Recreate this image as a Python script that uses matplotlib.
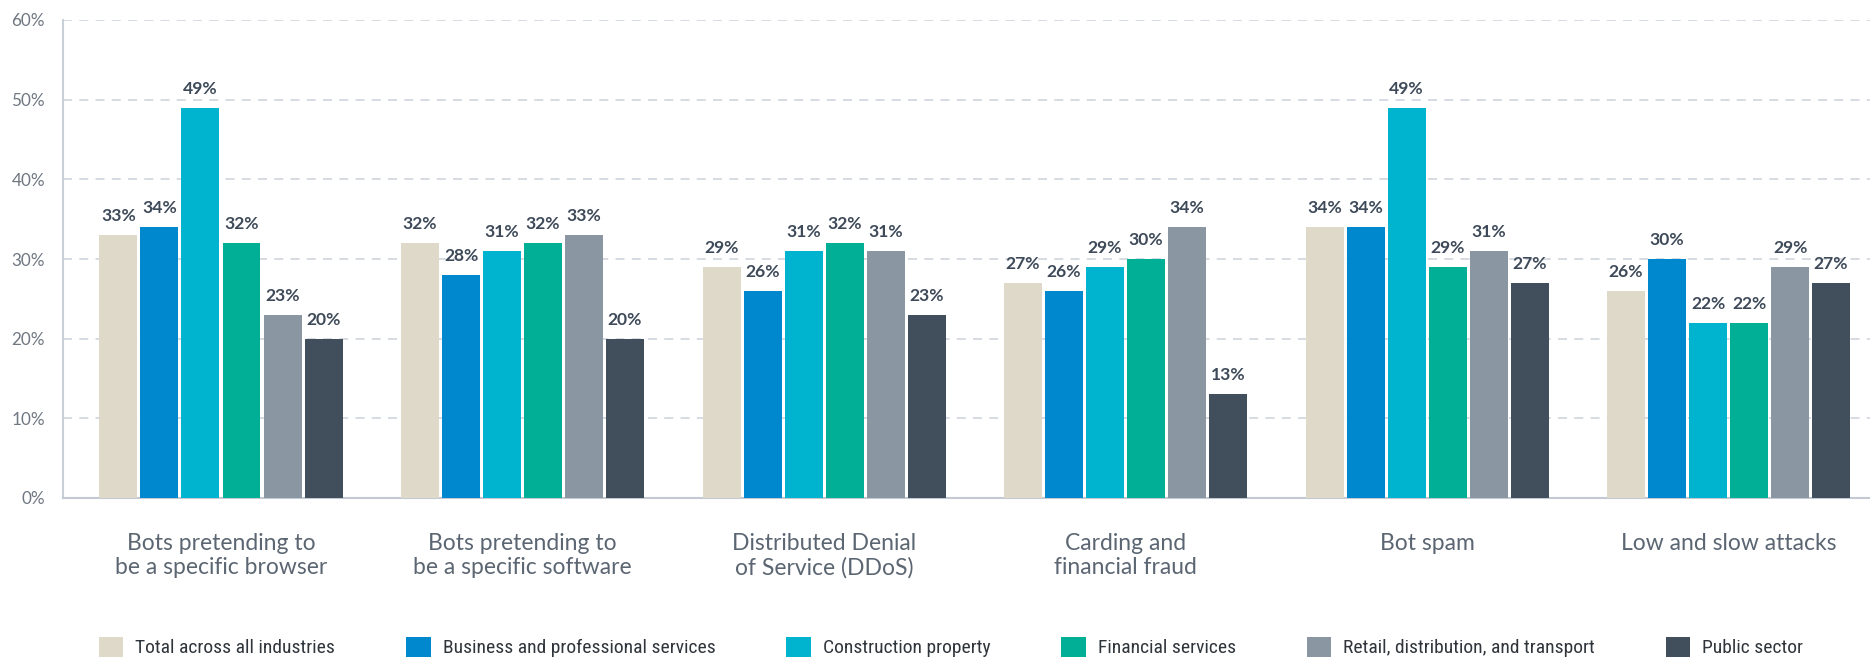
import matplotlib
matplotlib.use("Agg")
import matplotlib.pyplot as plt
from matplotlib import font_manager as fm
from matplotlib.patches import Patch
import numpy as np

categories = [
    "Bots pretending to\nbe a specific browser",
    "Bots pretending to\nbe a specific software",
    "Distributed Denial\nof Service (DDoS)",
    "Carding and\nfinancial fraud",
    "Bot spam",
    "Low and slow attacks",
]
series_names = [
    "Total across all industries",
    "Business and professional services",
    "Construction property",
    "Financial services",
    "Retail, distribution, and transport",
    "Public sector",
]
total = [33, 32, 29, 27, 34, 26]
business = [34, 28, 26, 26, 34, 30]
construction = [49, 31, 31, 29, 49, 22]
financial = [32, 32, 32, 30, 29, 22]
retail = [23, 33, 31, 34, 31, 29]
public = [20, 20, 23, 13, 27, 27]
series_values = [total, business, construction, financial, retail, public]
colors = ["#dfd9c9", "#0088cf", "#00b4cf", "#00af96", "#8a96a2", "#414f5d"]
yticks = [0, 10, 20, 30, 40, 50, 60]
ytick_labels = ["0%", "10%", "20%", "30%", "40%", "50%", "60%"]


def pick(cands):
    for c in cands:
        try:
            fm.findfont(fm.FontProperties(family=c), fallback_to_default=False)
            return c
        except Exception:
            pass
    return "DejaVu Sans"


main_font = pick(["Lato", "Open Sans", "Roboto", "DejaVu Sans"])
legend_font = pick(["Liberation Sans Narrow", "Roboto Condensed", "Open Sans Condensed", "Liberation Sans"])
plt.rcParams["font.family"] = [main_font, "DejaVu Sans"]

fig = plt.figure(figsize=(18.70, 6.57), dpi=100)
W, H = 1870, 657
x0, x1 = 63, 1870
y0, y1 = 498, 20
ax = fig.add_axes([x0 / W, 1 - y0 / H, (x1 - x0) / W, (y0 - y1) / H])

x = np.arange(len(categories))
step = 0.136
width = 0.126
for i, (name, vals, col) in enumerate(zip(series_names, series_values, colors)):
    offs = (i - 2.5) * step
    bars = ax.bar(x + offs, vals, width=width, color=col, label=name, zorder=3)
    ax.bar_label(bars, labels=[f"{v}%" for v in vals], padding=8,
                 fontsize=12.6, fontweight="bold", color="#3e4a59")

ax.set_ylim(0, 60)
ax.set_xlim(-0.524, 5.469)
ax.set_yticks(yticks)
ax.set_yticklabels(ytick_labels, fontsize=12.3, color="#6f7781")
ax.set_xticks(x)
ax.set_xticklabels(categories, fontsize=16.5, color="#5b6672", linespacing=1.2)
ax.tick_params(axis="x", length=0, pad=25)
ax.tick_params(axis="y", length=0, pad=13)
ax.yaxis.grid(True, color="#d3d8df", linestyle=(0, (5, 4)), linewidth=1.3, zorder=0)
ax.set_axisbelow(True)
for s in ["top", "right"]:
    ax.spines[s].set_visible(False)
ax.spines["left"].set_color("#c9cfd7")
ax.spines["left"].set_linewidth(1.5)
ax.spines["bottom"].set_color("#c3cad3")
ax.spines["bottom"].set_linewidth(1.5)

handles = [Patch(facecolor=c, edgecolor="none") for c in colors]
fs = 14
leg = fig.legend(handles, series_names, loc="center left", ncol=6,
                 bbox_to_anchor=(99 / W, 1 - 647 / H), frameon=False,
                 prop={"family": [legend_font, "DejaVu Sans"], "size": fs},
                 handlelength=1.25, handleheight=1.25, handletextpad=0.62,
                 columnspacing=3.65, borderpad=0, borderaxespad=0)
for t in leg.get_texts():
    t.set_color("#2f353b")

fig.savefig("out.png", dpi=100)
